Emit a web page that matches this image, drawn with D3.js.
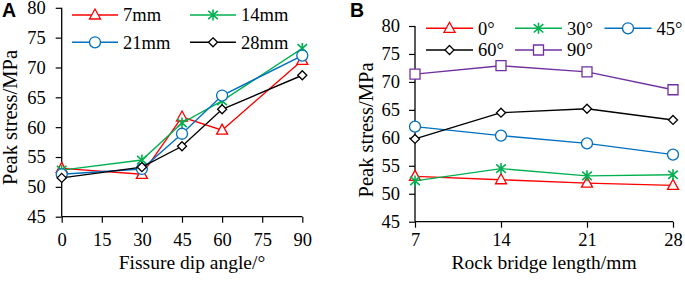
<!DOCTYPE html>
<html>
<head>
<meta charset="utf-8">
<script src="https://cdn.jsdelivr.net/npm/d3@7"></script>
<style>
  html, body { margin: 0; padding: 0; background: #fff; }
  svg { display: block; }
  .serif { font-family: "Liberation Serif", "Times New Roman", serif; }
</style>
</head>
<body>
<svg id="chart" width="685" height="282"></svg>
<script>
// ---------- Data ----------
// Panel A: peak stress vs fissure dip angle, one series per rock bridge length
const dipAngles = [0, 30, 45, 60, 90];
const dipTicks = [0, 15, 30, 45, 60, 75, 90];
const bridge7mm  = [53.1, 52.1, 61.7, 59.5, 71.2];
const bridge14mm = [52.8, 54.5, 60.7, 64.4, 73.2];
const bridge21mm = [52.1, 53.0, 58.9, 65.3, 72.0];
const bridge28mm = [51.5, 53.3, 56.8, 63.0, 68.7];
const seriesNamesA = ["7mm", "14mm", "21mm", "28mm"];

// Panel B: peak stress vs rock bridge length, one series per dip angle
const bridgeLengths = [7, 14, 21, 28];
const angle0deg  = [53.1, 52.5, 51.9, 51.5];
const angle30deg = [52.3, 54.5, 53.2, 53.4];
const angle45deg = [62.0, 60.4, 59.0, 57.0];
const angle60deg = [59.8, 64.5, 65.2, 63.2];
const angle90deg = [71.4, 72.9, 71.8, 68.6];
const seriesNamesB = ["0°", "30°", "45°", "60°", "90°"];

const stressTicks = [45, 50, 55, 60, 65, 70, 75, 80];

// ---------- Styles ----------
const RED = "#FF0000", GREEN = "#00B050", BLUE = "#0070C0", BLACK = "#000000", PURPLE = "#7030A0";
const SERIF = "'Liberation Serif', 'Times New Roman', serif";

const svg = d3.select("#chart");

function markerPath(type) {
  switch (type) {
    case "triangle": return "M0,-6L5.5,4L-5.5,4Z";
    case "circle": return d3.symbol(d3.symbolCircle, 95)();
    case "diamond": return "M0,-4.5L4.5,0L0,4.5L-4.5,0Z";
    case "square": return "M-5,-5L5,-5L5,5L-5,5Z";
    case "star": return "M0,-5.5L0,5.5M-4.8,-4.2L4.8,4.2M-4.8,4.2L4.8,-4.2";
  }
}

function drawMarker(g, type, color, x, y) {
  g.append("path")
    .attr("d", markerPath(type))
    .attr("transform", `translate(${x},${y})`)
    .attr("fill", type === "star" ? "none" : "#fff")
    .attr("stroke", color)
    .attr("stroke-width", type === "star" ? 1.6 : 1.3);
}

function styleText(sel, size) {
  sel.style("font-family", SERIF).style("font-size", size + "px").style("fill", "#000");
}

function drawPanel(cfg) {
  const g = svg.append("g");
  const x = d3.scaleLinear().domain(cfg.xDomain).range(cfg.xRange);
  const y = d3.scaleLinear().domain([45, 80]).range(cfg.yRange);

  // y axis
  const yAxis = g.append("g")
    .attr("transform", `translate(${cfg.xRange[0]},0)`)
    .call(d3.axisLeft(y).tickValues(stressTicks).tickSize(6).tickSizeOuter(0).tickPadding(cfg.yPad));
  yAxis.select(".domain").attr("stroke", "#000").attr("stroke-width", 1.3)
    .attr("d", `M0,${cfg.yRange[0]}V${cfg.yRange[1]}`);
  yAxis.selectAll(".tick line").attr("stroke", "#000").attr("stroke-width", 1.2);
  styleText(yAxis.selectAll(".tick text"), 18.5);

  // x axis
  const xAxis = g.append("g")
    .attr("transform", `translate(0,${cfg.yRange[0]})`)
    .call(d3.axisBottom(x).tickValues(cfg.xTicks).tickSize(6).tickSizeOuter(0).tickPadding(cfg.xPad));
  xAxis.select(".domain").attr("stroke", "#000").attr("stroke-width", 1.3)
    .attr("d", `M${cfg.xRange[0]},0H${cfg.xRange[1]}`);
  xAxis.selectAll(".tick line").attr("stroke", "#000").attr("stroke-width", 1.2);
  styleText(xAxis.selectAll(".tick text"), 18.5);

  // axis titles
  styleText(g.append("text")
    .attr("transform", `translate(${cfg.yTitleX},${cfg.yTitleY}) rotate(-90)`)
    .attr("text-anchor", "middle")
    .text("Peak stress/MPa"), 20.5);
  styleText(g.append("text")
    .attr("x", cfg.xTitleX).attr("y", cfg.xTitleY)
    .attr("text-anchor", "middle")
    .text(cfg.xTitle), 19.5);

  // panel letter
  g.append("text")
    .attr("x", cfg.letterX).attr("y", 17)
    .style("font-family", "'Liberation Sans', Arial, sans-serif")
    .style("font-weight", "bold").style("font-size", "19.5px")
    .text(cfg.letter);

  // series
  const line = d3.line().x(d => x(d[0])).y(d => y(d[1]));
  cfg.series.forEach(s => {
    const pts = cfg.xValues.map((v, i) => [v, s.values[i]]);
    g.append("path").datum(pts).attr("d", line)
      .attr("fill", "none").attr("stroke", s.color).attr("stroke-width", 1.4);
    pts.forEach(p => drawMarker(g, s.marker, s.color, x(p[0]), y(p[1])));
  });

  // legend
  cfg.series.forEach((s, i) => {
    const lx = cfg.legendX[i], ly = cfg.legendY[i];
    g.append("line")
      .attr("x1", lx).attr("x2", lx + cfg.legendLen)
      .attr("y1", ly).attr("y2", ly)
      .attr("stroke", s.color).attr("stroke-width", 1.4);
    drawMarker(g, s.marker, s.color, lx + cfg.legendLen / 2, ly);
    styleText(g.append("text")
      .attr("x", lx + cfg.legendLen + 5).attr("y", ly).attr("dy", "0.35em")
      .text(s.name), 18.5);
  });
}

drawPanel({
  letter: "A", letterX: 2,
  xDomain: [0, 90], xRange: [61.7, 302.3], yRange: [216.7, 7.8],
  xTicks: dipTicks, xValues: dipAngles, yPad: 10, xPad: 10,
  yTitleX: 16.5, yTitleY: 117.5,
  xTitle: "Fissure dip angle/°", xTitleX: 192, xTitleY: 269,
  legendX: [72, 190, 72, 190], legendY: [15, 15, 42.3, 42.3], legendLen: 46,
  series: [
    { name: seriesNamesA[0], values: bridge7mm,  color: RED,   marker: "triangle" },
    { name: seriesNamesA[1], values: bridge14mm, color: GREEN, marker: "star" },
    { name: seriesNamesA[2], values: bridge21mm, color: BLUE,  marker: "circle" },
    { name: seriesNamesA[3], values: bridge28mm, color: BLACK, marker: "diamond" }
  ]
});

drawPanel({
  letter: "B", letterX: 350,
  xDomain: [7, 28], xRange: [415, 673], yRange: [221.7, 26],
  xTicks: bridgeLengths, xValues: bridgeLengths, yPad: 9, xPad: 5,
  yTitleX: 373, yTitleY: 130,
  xTitle: "Rock bridge length/mm", xTitleX: 544, xTitleY: 269,
  legendX: [426, 515, 604.5, 426, 515], legendY: [28.3, 28.3, 28.3, 50, 50], legendLen: 47,
  series: [
    { name: seriesNamesB[0], values: angle0deg,  color: RED,    marker: "triangle" },
    { name: seriesNamesB[1], values: angle30deg, color: GREEN,  marker: "star" },
    { name: seriesNamesB[2], values: angle45deg, color: BLUE,   marker: "circle" },
    { name: seriesNamesB[3], values: angle60deg, color: BLACK,  marker: "diamond" },
    { name: seriesNamesB[4], values: angle90deg, color: PURPLE, marker: "square" }
  ]
});
</script>
</body>
</html>
